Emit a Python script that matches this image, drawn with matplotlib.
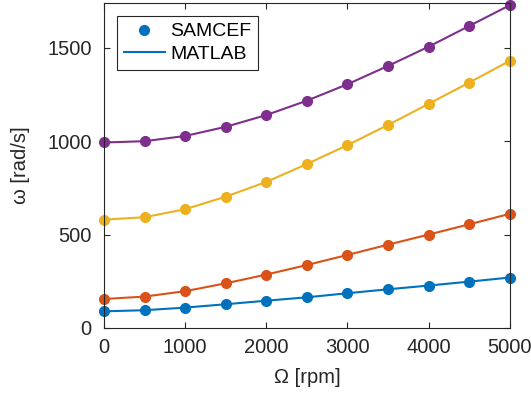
import matplotlib
matplotlib.use("Agg")
import matplotlib.pyplot as plt
from matplotlib.lines import Line2D

plt.rcParams['font.family'] = ['Liberation Sans', 'DejaVu Sans']

rpm = [0, 500, 1000, 1500, 2000, 2500, 3000, 3500, 4000, 4500, 5000]
mode1 = [89, 95, 109, 127, 146, 164, 186, 207, 227, 248, 270]
mode2 = [155, 168, 197, 239, 286, 337, 391, 446, 500, 555, 611]
mode3 = [580, 593, 636, 703, 782, 878, 979, 1087, 1200, 1314, 1430]
mode4 = [993, 1000, 1028, 1077, 1140, 1217, 1305, 1403, 1506, 1617, 1728]
colors = ['#0072BD', '#D95319', '#EDB120', '#7E2F8E']
xticks = [0, 1000, 2000, 3000, 4000, 5000]
yticks = [0, 500, 1000, 1500]

fig = plt.figure(figsize=(5.31, 3.98), dpi=100)
ax = fig.add_axes([0.196, 0.176, 0.764, 0.8165])

for vals, c in zip([mode1, mode2, mode3, mode4], colors):
    ax.plot(rpm, vals, '-', color=c, lw=1.5, clip_on=False)
    ax.plot(rpm, vals, 'o', color=c, ms=7, clip_on=False)

ax.set_xlim(0, 5000)
ax.set_ylim(0, 1740)
ax.set_xticks(xticks)
ax.set_yticks(yticks)
axc = '#262626'
for s in ax.spines.values():
    s.set_color(axc)
    s.set_linewidth(0.8)
ax.tick_params(direction='in', top=True, right=True, length=4, width=0.8,
               colors=axc, labelsize=14.5, labelcolor=axc)
ax.tick_params(axis='y', pad=9)
ax.tick_params(axis='x', pad=7)
ax.set_xlabel('Ω [rpm]', fontsize=14.5, color=axc, labelpad=8)
ax.set_ylabel('ω [rad/s]', fontsize=14.5, color=axc, labelpad=12)

handles = [Line2D([], [], ls='none', marker='o', color=colors[0], ms=7),
           Line2D([], [], ls='-', color=colors[0], lw=1.5)]
leg = ax.legend(handles, ['SAMCEF', 'MATLAB'], loc='upper left',
                bbox_to_anchor=(0.032, 0.96), fontsize=14, frameon=True,
                fancybox=False, framealpha=1, edgecolor=axc,
                handlelength=2.1, handletextpad=0.3, borderpad=0.35,
                labelspacing=0.25, borderaxespad=0)
leg.get_frame().set_linewidth(0.8)

fig.savefig('out.png', dpi=100)
